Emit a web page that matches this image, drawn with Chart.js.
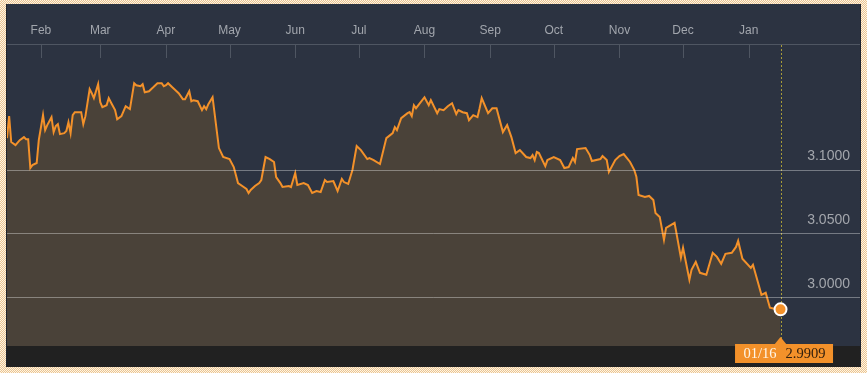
<!DOCTYPE html>
<html>
<head>
<meta charset="utf-8">
<script src="https://cdn.jsdelivr.net/npm/chart.js@4.4.1/dist/chart.umd.min.js"></script>
<style>
    html, body { margin: 0; padding: 0; }
    body {
        width: 867px;
        height: 373px;
        overflow: hidden;
        position: relative;
        background: repeating-conic-gradient(#ecc490 0 25%, #fdf5e6 0 50%) 0 0 / 2px 2px;
    }
    #panel {
        position: absolute;
        left: 6px;
        top: 4px;
        width: 853px;
        height: 363px;
        background: #2c3341;
        border-left: 1px solid #1e232c;
        border-right: 1px solid #1e232c;
    }
    canvas { display: block; }
</style>
</head>
<body>
<div id="panel"><canvas id="chart" width="853" height="363"></canvas></div>
<script>
// days since 01/16 of the previous year
const dayOffsets = [
    0, 1, 2, 4, 6, 8, 9, 10, 11, 12, 14, 15, 17, 18, 19, 21, 22, 23, 24, 25,
    27, 28, 29, 30, 31, 32, 34, 35, 36, 37, 39, 40, 41, 43, 44, 45, 47, 48, 49, 51,
    52, 54, 55, 56, 58, 60, 61, 63, 64, 65, 67, 68, 69, 71, 73, 74, 75, 76, 78, 79,
    81, 83, 84, 86, 87, 88, 90, 92, 93, 94, 95, 97, 100, 102, 105, 107, 108, 109, 111, 113,
    114, 115, 117, 119, 120, 122, 124, 126, 127, 129, 130, 133, 134, 136, 137, 140, 142, 144, 146, 148,
    150, 151, 154, 156, 158, 159, 161, 163, 165, 167, 170, 171, 173, 176, 179, 182, 183, 184, 186, 189,
    190, 191, 192, 193, 197, 199, 200, 203, 204, 206, 208, 210, 212, 213, 215, 217, 218, 220, 222, 223,
    224, 227, 229, 231, 234, 236, 238, 240, 242, 245, 247, 248, 249, 250, 251, 254, 255, 258, 261, 263,
    265, 267, 268, 269, 273, 275, 276, 280, 281, 283, 284, 287, 289, 291, 294, 296, 297, 298, 301, 303,
    305, 306, 308, 310, 311, 315, 318, 319, 322, 323, 325, 327, 330, 333, 335, 337, 339, 342, 344, 345,
    347, 351, 352, 354, 356, 358, 360, 362, 365
];

const rates = [
    3.1250, 3.1422, 3.1219, 3.1195, 3.1234, 3.1258, 3.1242, 3.1242, 3.1016, 3.1039,
    3.1055, 3.1234, 3.1430, 3.1313, 3.1352, 3.1414, 3.1297, 3.1344, 3.1359, 3.1281,
    3.1289, 3.1305, 3.1375, 3.1289, 3.1430, 3.1453, 3.1453, 3.1453, 3.1359, 3.1422,
    3.1633, 3.1602, 3.1563, 3.1672, 3.1531, 3.1492, 3.1508, 3.1563, 3.1531, 3.1469,
    3.1398, 3.1422, 3.1461, 3.1500, 3.1477, 3.1680, 3.1664, 3.1656, 3.1672, 3.1609,
    3.1617, 3.1633, 3.1648, 3.1680, 3.1680, 3.1656, 3.1664, 3.1680, 3.1648, 3.1633,
    3.1602, 3.1555, 3.1555, 3.1617, 3.1539, 3.1547, 3.1539, 3.1469, 3.1500, 3.1477,
    3.1516, 3.1570, 3.1172, 3.1102, 3.1086, 3.1023, 3.0961, 3.0898, 3.0875, 3.0852,
    3.0820, 3.0844, 3.0875, 3.0898, 3.0922, 3.1102, 3.1086, 3.1063, 3.0945, 3.0898,
    3.0867, 3.0875, 3.0867, 3.0977, 3.0883, 3.0898, 3.0883, 3.0820, 3.0836, 3.0828,
    3.0922, 3.0906, 3.0914, 3.0836, 3.0930, 3.0906, 3.0891, 3.1000, 3.1188, 3.1156,
    3.1086, 3.1094, 3.1078, 3.1047, 3.1250, 3.1289, 3.1336, 3.1313, 3.1406, 3.1445,
    3.1453, 3.1422, 3.1508, 3.1484, 3.1570, 3.1508, 3.1547, 3.1445, 3.1477, 3.1469,
    3.1500, 3.1523, 3.1438, 3.1469, 3.1453, 3.1445, 3.1391, 3.1430, 3.1414, 3.1484,
    3.1563, 3.1445, 3.1484, 3.1484, 3.1297, 3.1352, 3.1258, 3.1133, 3.1156, 3.1102,
    3.1094, 3.1117, 3.1078, 3.1141, 3.1133, 3.1031, 3.1078, 3.1102, 3.1078, 3.1016,
    3.1023, 3.1094, 3.1063, 3.1164, 3.1172, 3.1117, 3.1070, 3.1086, 3.1109, 3.1078,
    3.0984, 3.1078, 3.1109, 3.1125, 3.1063, 3.1000, 3.0945, 3.0805, 3.0789, 3.0797,
    3.0766, 3.0664, 3.0633, 3.0453, 3.0547, 3.0586, 3.0313, 3.0391, 3.0141, 3.0219,
    3.0281, 3.0195, 3.0180, 3.0352, 3.0320, 3.0266, 3.0344, 3.0352, 3.0398, 3.0445,
    3.0305, 3.0234, 3.0258, 3.0141, 3.0023, 3.0039, 2.9922, 2.9914, 2.9909
];

const monthLabels = ["Feb", "Mar", "Apr", "May", "Jun", "Jul", "Aug", "Sep", "Oct", "Nov", "Dec", "Jan"];
const monthDays = [16, 44, 75, 105, 136, 166, 197, 228, 258, 289, 319, 350];
const yTicks = [3.0, 3.05, 3.1];
const lastDateLabel = "01/16";

const ORANGE = "#f3912a";
const lastIndex = rates.length - 1;

// background, month tick marks, cursor line and the value tag
const decorPlugin = {
    id: "decor",
    beforeDraw(chart) {
        const { ctx, chartArea, width, height } = chart;
        ctx.save();
        ctx.fillStyle = "#2c3341";
        ctx.fillRect(0, 0, width, height);
        ctx.fillStyle = "#212121";
        ctx.fillRect(0, chartArea.bottom, width, height - chartArea.bottom);
        ctx.restore();
    },
    beforeDatasetsDraw(chart) {
        const { ctx, chartArea, scales } = chart;
        ctx.save();
        ctx.strokeStyle = "#4f5662";
        ctx.lineWidth = 1;
        monthDays.forEach((d) => {
            const x = Math.round(scales.x.getPixelForValue(d)) + 0.5;
            ctx.beginPath();
            ctx.moveTo(x, chartArea.top);
            ctx.lineTo(x, chartArea.top + 14);
            ctx.stroke();
        });
        // dotted cursor at the last point
        const lx = Math.round(scales.x.getPixelForValue(dayOffsets[lastIndex])) + 0.5;
        ctx.strokeStyle = "#a89c38";
        ctx.setLineDash([2, 2]);
        ctx.beginPath();
        ctx.moveTo(lx, chartArea.top + 1);
        ctx.lineTo(lx, chartArea.bottom);
        ctx.stroke();
        ctx.restore();
    },
    afterDraw(chart) {
        const { ctx, chartArea, scales } = chart;
        const px = scales.x.getPixelForValue(dayOffsets[lastIndex]);
        const top = chartArea.bottom - 2;
        ctx.save();
        ctx.fillStyle = ORANGE;
        ctx.fillRect(px - 45.5, top, 98, 19);
        ctx.beginPath();
        ctx.moveTo(px - 6.5, top + 1);
        ctx.lineTo(px, top - 7);
        ctx.lineTo(px + 6.5, top + 1);
        ctx.closePath();
        ctx.fill();
        ctx.font = "14.5px 'Liberation Serif', 'DejaVu Serif', serif";
        ctx.textBaseline = "middle";
        ctx.textAlign = "left";
        const ty = top + 10.5;
        ctx.fillStyle = "#fff6e8";
        ctx.fillText(lastDateLabel, px - 37, ty);
        ctx.fillStyle = "#33200e";
        ctx.fillText(rates[lastIndex].toFixed(4), px + 5, ty);
        ctx.restore();
    },
};

new Chart(document.getElementById("chart"), {
    type: "line",
    data: {
        datasets: [{
            data: dayOffsets.map((d, i) => ({ x: d, y: rates[i] })),
            borderColor: ORANGE,
            borderWidth: 2,
            backgroundColor: "#4a4239",
            fill: "start",
            tension: 0,
            pointRadius: (c) => (c.dataIndex === lastIndex ? 6 : 0),
            pointBackgroundColor: ORANGE,
            pointBorderColor: "#ffffff",
            pointBorderWidth: 2,
        }],
    },
    options: {
        responsive: false,
        animation: false,
        devicePixelRatio: 1,
        layout: { autoPadding: false, padding: { top: 13.6, bottom: 21, left: 0, right: 0 } },
        plugins: {
            legend: { display: false },
            tooltip: { enabled: false },
        },
        scales: {
            x: {
                type: "linear",
                position: "top",
                min: 0,
                max: 402.5,
                afterBuildTicks: (scale) => {
                    scale.ticks = monthDays.map((v) => ({ value: v }));
                },
                ticks: {
                    callback: (v, i) => monthLabels[i],
                    color: "#a2a6ad",
                    font: { family: "'Liberation Sans', Arial, sans-serif", size: 12 },
                    padding: 6,
                    maxRotation: 0,
                    autoSkip: false,
                },
                grid: { drawOnChartArea: false, drawTicks: false },
                border: { color: "#4f5662", width: 1 },
            },
            y: {
                position: "right",
                min: 2.9622,
                max: 3.1987,
                afterBuildTicks: (scale) => {
                    scale.ticks = yTicks.map((v) => ({ value: v }));
                },
                afterFit: (scale) => {
                    scale.width = 0;
                },
                ticks: {
                    z: 2,
                    mirror: true,
                    padding: -10,
                    labelOffset: -14,
                    color: "#a3a6ac",
                    font: { family: "'Liberation Sans', Arial, sans-serif", size: 14 },
                    callback: (v) => v.toFixed(4),
                },
                grid: { z: 1, color: "rgba(255,255,255,0.35)", drawTicks: false },
                border: { display: false },
            },
        },
    },
    plugins: [decorPlugin],
});
</script>
</body>
</html>
